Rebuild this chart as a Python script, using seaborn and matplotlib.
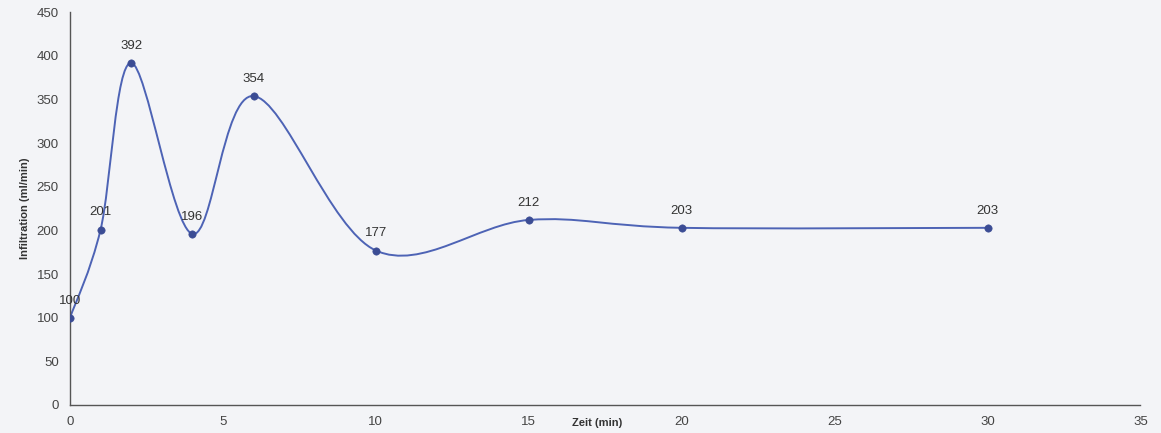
import numpy as np
import pandas as pd
import seaborn as sns
import matplotlib.pyplot as plt
from matplotlib.path import Path
from matplotlib.patches import PathPatch

# data
zeit = [0, 1, 2, 4, 6, 10, 15, 20, 30]
infiltration = [100, 201, 392, 196, 354, 177, 212, 203, 203]
x_ticks = [0, 5, 10, 15, 20, 25, 30, 35]
y_ticks = [0, 50, 100, 150, 200, 250, 300, 350, 400, 450]

df = pd.DataFrame({'Zeit': zeit, 'Infiltration': infiltration})


def smooth_path(xs, ys, t=1/6.):
    # excel-like smoothed line as bezier segments through the points
    pts = np.column_stack([xs, ys]).astype(float)
    n = len(pts)
    verts = [pts[0]]
    codes = [Path.MOVETO]
    for i in range(n - 1):
        p0 = pts[i - 1] if i > 0 else pts[i]
        p1 = pts[i]
        p2 = pts[i + 1]
        p3 = pts[i + 2] if i + 2 < n else pts[i + 1]
        c1 = p1 + (p2 - p0) * t
        c2 = p2 - (p3 - p1) * t
        verts += [c1, c2, p2]
        codes += [Path.CURVE4] * 3
    return Path(verts, codes)


sns.set_style("white")
plt.rcParams['font.family'] = ['Liberation Sans', 'DejaVu Sans']

bg = '#f3f4f7'
fig = plt.figure(figsize=(11.61, 4.33), dpi=100)
fig.patch.set_facecolor(bg)
ax = fig.add_axes([0.0603, 0.0647, 0.922, 0.907])
ax.set_facecolor(bg)

line_col = '#4d63b5'
ax.add_patch(PathPatch(smooth_path(df.Zeit, df.Infiltration), facecolor='none',
                       edgecolor=line_col, lw=1.4, zorder=2))
sns.scatterplot(data=df, x='Zeit', y='Infiltration', ax=ax, color='#3b4c94',
                s=28, edgecolor='#3b4c94', zorder=3, legend=False)

for xv, yv in zip(zeit, infiltration):
    ax.annotate(str(yv), (xv, yv), xytext=(0, 8), textcoords='offset points',
                ha='center', va='bottom', fontsize=9.5, color='#333333')

ax.set_xlim(0, 35)
ax.set_ylim(0, 450)
ax.set_xticks(x_ticks)
ax.set_yticks(y_ticks)
ax.tick_params(length=0, labelsize=9.5, labelcolor='#444444', pad=8)
ax.set_xlabel('')
ax.set_ylabel('Infiltration (ml/min)', fontsize=8, fontweight='bold', color='#333333', labelpad=5)
ax.text(17.25, -15, 'Zeit (min)', fontsize=8, fontweight='bold', color='#333333',
        ha='center', va='top', transform=ax.transData)

sns.despine(ax=ax)
for s in ['left', 'bottom']:
    ax.spines[s].set_color('#555555')
    ax.spines[s].set_linewidth(1.0)

plt.savefig('out.png', dpi=100, facecolor=fig.get_facecolor())
